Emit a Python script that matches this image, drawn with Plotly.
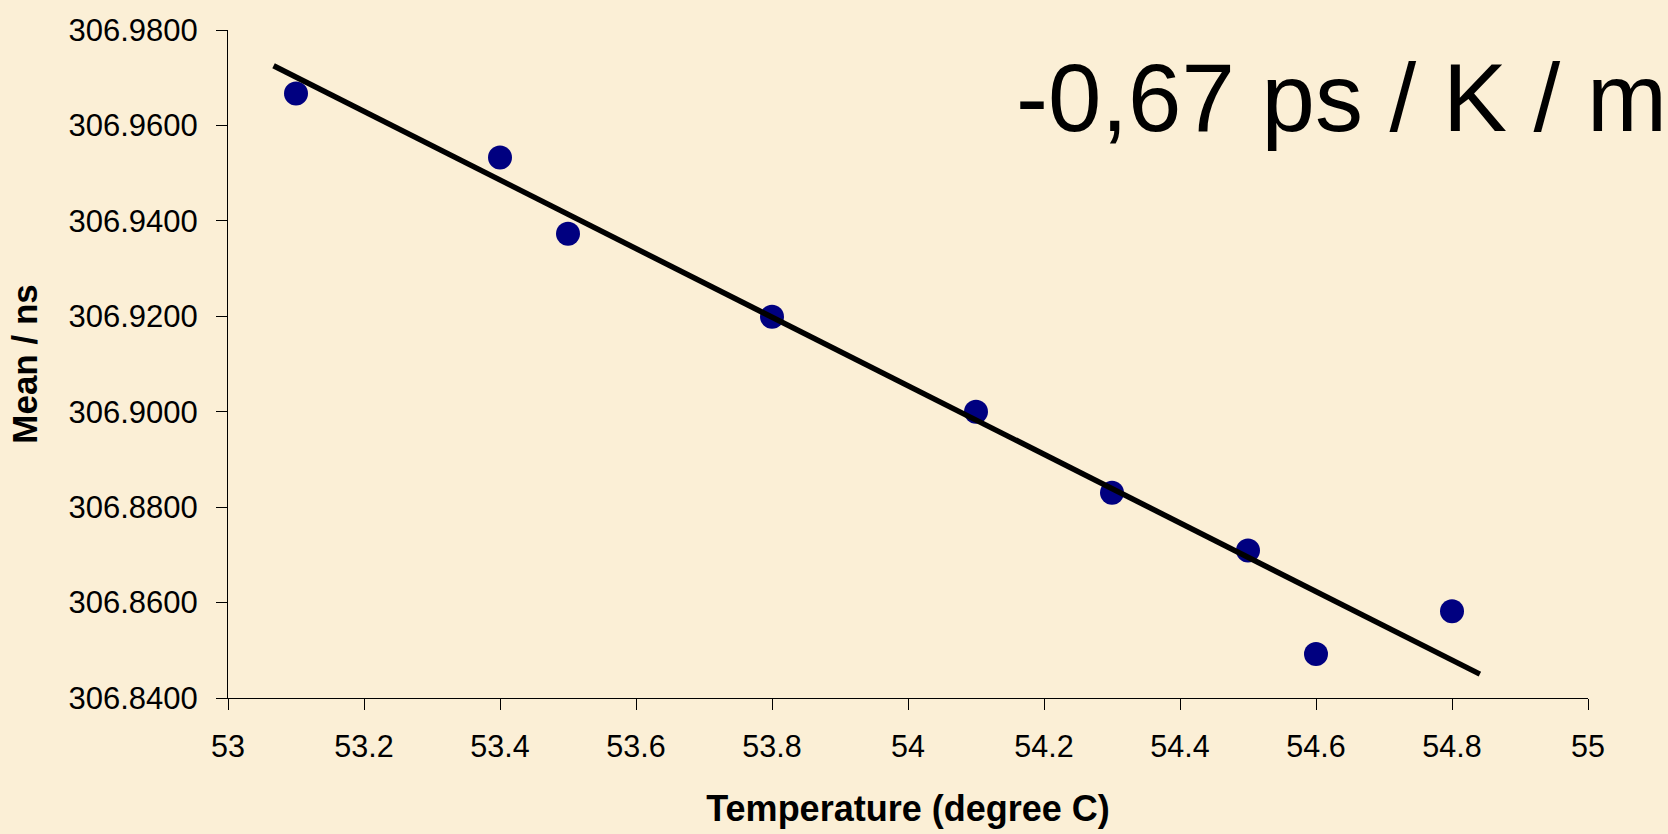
import plotly.graph_objects as go

# Data
temperature = [53.1, 53.4, 53.5, 53.8, 54.1, 54.3, 54.5, 54.6, 54.8]
mean_ns = [306.9667, 306.9533, 306.9373, 306.9199, 306.9000, 306.8830, 306.8709, 306.8492, 306.8582]

trend_x = [53.067, 54.841]
trend_y = [306.9725, 306.8450]

x_ticks = [53, 53.2, 53.4, 53.6, 53.8, 54, 54.2, 54.4, 54.6, 54.8, 55]
y_ticks = [306.84, 306.86, 306.88, 306.90, 306.92, 306.94, 306.96, 306.98]

annotation_text = "-0,67 ps / K / m"
x_title = "Temperature (degree C)"
y_title = "Mean / ns"

FONT = "Liberation Sans, Arial, sans-serif"
BG = "#FBEFD6"

fig = go.Figure()
fig.add_trace(go.Scatter(
    x=temperature, y=mean_ns, mode="markers",
    marker=dict(size=24, color="#000080", line=dict(width=0)),
    showlegend=False, hoverinfo="x+y",
))
fig.add_trace(go.Scatter(
    x=trend_x, y=trend_y, mode="lines",
    line=dict(color="black", width=5.5),
    showlegend=False, hoverinfo="skip",
))

fig.update_layout(
    width=1668, height=834,
    margin=dict(l=228, r=80, t=30, b=136, autoexpand=False),
    paper_bgcolor=BG, plot_bgcolor=BG,
    font=dict(family=FONT, color="black"),
    showlegend=False,
    annotations=[dict(
        text=annotation_text, xref="paper", yref="paper",
        x=0.578, y=0.899, xanchor="left", yanchor="middle",
        showarrow=False, font=dict(family=FONT, size=96, color="black"),
    )],
)

fig.update_xaxes(
    range=[53, 55], tickvals=x_ticks, ticktext=[f"{v:g}" for v in x_ticks],
    showgrid=False, zeroline=False,
    showline=True, linecolor="black", linewidth=1,
    ticks="outside", ticklen=11, tickcolor="black", tickwidth=1,
    tickfont=dict(family=FONT, size=30.5, color="black"),
    ticklabelstandoff=10,
    title=dict(text=x_title, font=dict(family=FONT, size=36, color="black", weight="bold"), standoff=34),
)
fig.update_yaxes(
    range=[306.84, 306.98], tickvals=y_ticks, ticktext=[f"{v:.4f}" for v in y_ticks],
    showgrid=False, zeroline=False,
    showline=True, linecolor="black", linewidth=1,
    ticks="outside", ticklen=11, tickcolor="black", tickwidth=1,
    tickfont=dict(family=FONT, size=31, color="black"),
    ticklabelstandoff=12,
    title=dict(text=y_title, font=dict(family=FONT, size=35, color="black", weight="bold"), standoff=20),
)

fig.write_html("out.html")
